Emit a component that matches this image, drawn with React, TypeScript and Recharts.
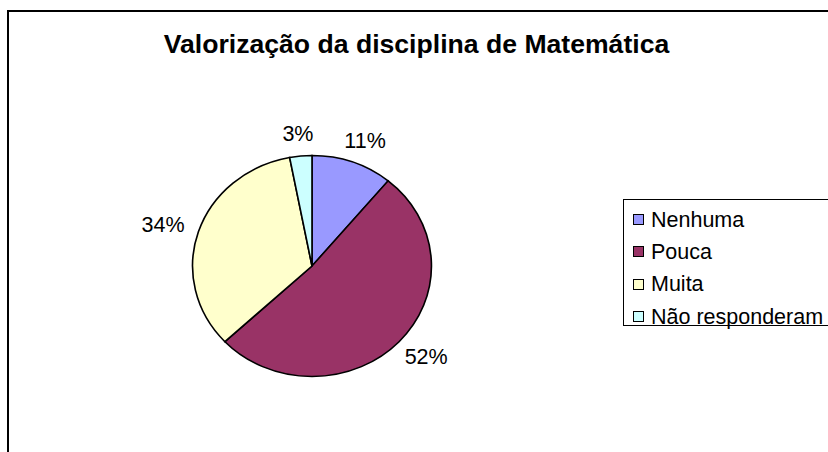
import React from 'react';
import { PieChart, Pie, Cell, Legend } from 'recharts';

const categories = ['Nenhuma', 'Pouca', 'Muita', 'Não responderam'];
const values = [11, 52, 34, 3];
const percentLabels = ['11%', '52%', '34%', '3%'];
const colors = ['#9999FF', '#993366', '#FFFFCC', '#CCFFFF'];
const title = 'Valorização da disciplina de Matemática';

const W = 828;
const H = 452;
const CX = 312;
const CY = 266;
const R = 110.5;
const SX = 1.081;
const FONT = '"Liberation Sans", Arial, sans-serif';
const LABEL_FS = 21.5;

const data = categories.map((name, i) => ({ name, value: values[i], label: percentLabels[i] }));

const RAD = Math.PI / 180;

const renderLabel = (props: any) => {
  const { cx, cy, midAngle, outerRadius, index } = props;
  const cos = Math.cos(midAngle * RAD);
  const sin = Math.sin(midAngle * RAD);
  const r = outerRadius + 15;
  const text = data[index].label;
  const w = text.length * LABEL_FS * 0.65;
  const h = LABEL_FS * 0.7;
  const x = cx + r * cos * SX + (cos * w) / 2;
  const y = cy - r * sin - (sin * h) / 2;
  return (
    <text
      x={x}
      y={y}
      textAnchor="middle"
      dominantBaseline="central"
      fontFamily={FONT}
      fontSize={LABEL_FS}
      fill="#000"
    >
      {text}
    </text>
  );
};

const renderLegend = (props: any) => {
  const payload = [...(props.payload || [])].sort(
    (a: any, b: any) => categories.indexOf(a.value) - categories.indexOf(b.value)
  );
  return (
    <div
      style={{
        width: 240,
        height: 127,
        border: '1px solid #000',
        boxSizing: 'border-box',
        paddingTop: 3.5,
        paddingLeft: 9,
        background: '#fff',
        fontFamily: FONT,
        fontSize: LABEL_FS,
        color: '#000',
      }}
    >
      {payload.map((entry: any, i: number) => (
        <div
          key={i}
          style={{ height: 32.3, display: 'flex', alignItems: 'center', whiteSpace: 'nowrap' }}
        >
          <span
            style={{
              display: 'inline-block',
              width: 11,
              height: 11,
              boxSizing: 'border-box',
              border: '1px solid #000',
              background: entry.color,
              marginRight: 7,
            }}
          />
          <span style={{ lineHeight: '22px' }}>{entry.value}</span>
        </div>
      ))}
    </div>
  );
};

export default function App() {
  return (
    <div
      style={{
        position: 'absolute',
        left: 0,
        top: 0,
        width: W,
        height: H,
        overflow: 'hidden',
        background: '#fff',
      }}
    >
      <style>{`
        .scaled-pie .recharts-pie .recharts-sector {
          transform-origin: ${CX}px ${CY}px;
          transform: scaleX(${SX});
        }
      `}</style>
      <div
        style={{
          position: 'absolute',
          left: 7,
          top: 10,
          width: W + 50,
          height: H + 50,
          borderLeft: '2px solid #000',
          borderTop: '2px solid #000',
          boxSizing: 'border-box',
        }}
      />
      <svg width={W} height={H} style={{ position: 'absolute', left: 0, top: 0 }}>
        <text
          x={416.5}
          y={53}
          textAnchor="middle"
          fontFamily={FONT}
          fontWeight="bold"
          fontSize={26.6}
          fill="#000"
        >
          {title}
        </text>
      </svg>
      <div className="scaled-pie" style={{ position: 'absolute', left: 0, top: 0 }}>
        <PieChart width={W} height={H} margin={{ top: 0, right: 0, bottom: 0, left: 0 }}>
          <Pie
            data={data}
            dataKey="value"
            nameKey="name"
            cx={CX}
            cy={CY}
            outerRadius={R}
            startAngle={90}
            endAngle={-270}
            stroke="#000"
            strokeWidth={1.5}
            label={renderLabel}
            labelLine={false}
            isAnimationActive={false}
          >
            {data.map((d, i) => (
              <Cell key={d.name} fill={colors[i]} />
            ))}
          </Pie>
          <Legend
            layout="vertical"
            align="right"
            verticalAlign="top"
            content={renderLegend}
            wrapperStyle={{ position: 'absolute', left: 623, top: 199, width: 240, height: 127 }}
          />
        </PieChart>
      </div>
    </div>
  );
}
